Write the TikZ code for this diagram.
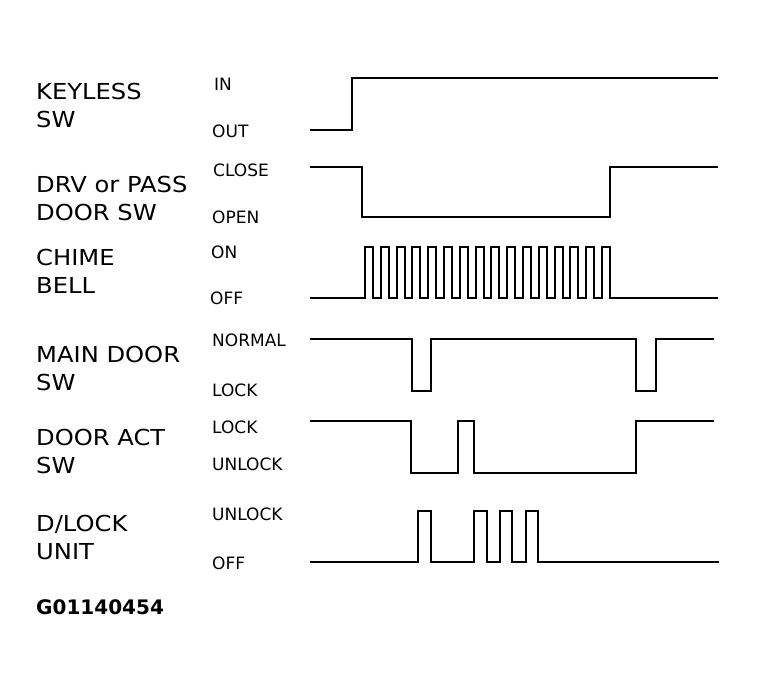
\documentclass[tikz,border=0pt]{standalone}
\usepackage{fontspec}
\setmainfont{DejaVu Sans}
\begin{document}
\begin{tikzpicture}[x=1pt,y=-1pt,
  sig/.style={line width=1.9pt,line join=miter},
  lab/.style={anchor=west,inner sep=0pt,font=\fontsize{22}{26}\selectfont\addfontfeatures{FakeStretch=1.1}},
  st/.style={anchor=west,inner sep=0pt,font=\fontsize{17}{20}\selectfont}]
\useasboundingbox (0,0) rectangle (757,689);
% labels
\node[lab,align=left] (l1) at (36,105) {KEYLESS\\[2pt]SW};
\node[lab,align=left] (l2) at (36,198) {DRV or PASS\\[2pt]DOOR SW};
\node[lab,align=left] (l3) at (36,271) {CHIME\\[2pt]BELL};
\node[lab,align=left] (l4) at (36,368) {MAIN DOOR\\[2pt]SW};
\node[lab,align=left] (l5) at (36,451) {DOOR ACT\\[2pt]SW};
\node[lab,align=left] (l6) at (36,537) {D/LOCK\\[2pt]UNIT};
\node[lab,font=\bfseries\fontsize{20}{22}\selectfont] (code) at (36,607) {G01140454};
% states
\node[st] (s1a) at (214,84) {IN};
\node[st] (s1b) at (212,131) {OUT};
\node[st] (s2a) at (213,170) {CLOSE};
\node[st] (s2b) at (212,217) {OPEN};
\node[st] (s3a) at (211,252) {ON};
\node[st] (s3b) at (210,298) {OFF};
\node[st] (s4a) at (212,340) {NORMAL};
\node[st] (s4b) at (212,390) {LOCK};
\node[st] (s5a) at (212,427) {LOCK};
\node[st] (s5b) at (212,464) {UNLOCK};
\node[st] (s6a) at (212,514) {UNLOCK};
\node[st] (s6b) at (212,563) {OFF};
% waveforms
\draw[sig] (310,130) -- (352,130) -- (352,78) -- (718,78);
\draw[sig] (310,167) -- (362,167) -- (362,217) -- (610,217) -- (610,167) -- (718,167);
\draw[sig] (310,298) -- (365,298)
  \foreach \i in {1,...,15} { -- ++(0,-51) -- ++(8,0) -- ++(0,51) -- ++(7.8,0) }
  -- ++(0,-51) -- ++(8,0) -- ++(0,51) -- (718,298);
\draw[sig] (310,339) -- (412,339) -- (412,391) -- (431,391) -- (431,339) -- (636,339) -- (636,391) -- (656,391) -- (656,339) -- (714,339);
\draw[sig] (310,421) -- (411,421) -- (411,473) -- (458,473) -- (458,421) -- (474,421) -- (474,473) -- (636,473) -- (636,421) -- (714,421);
\draw[sig] (310,562) -- (418,562) -- (418,511) -- (431,511) -- (431,562) -- (474,562) -- (474,511) -- (487,511) -- (487,562) -- (500,562) -- (500,511) -- (512,511) -- (512,562) -- (526,562) -- (526,511) -- (538,511) -- (538,562) -- (719,562);
\end{tikzpicture}
\end{document}
